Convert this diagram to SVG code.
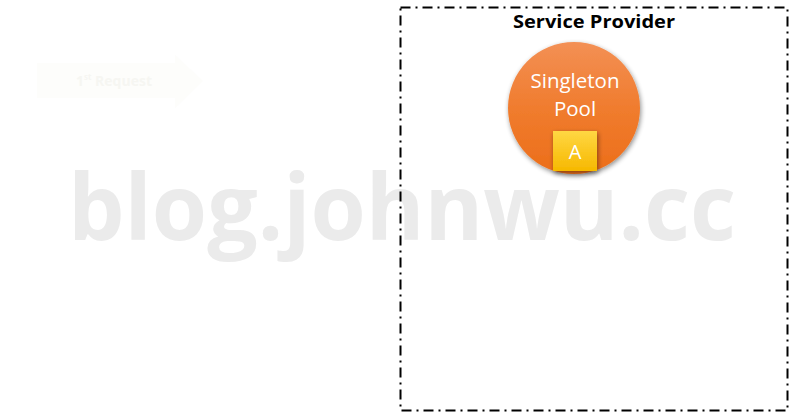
<svg xmlns="http://www.w3.org/2000/svg" width="800" height="420" viewBox="0 0 800 420">
<defs>
<linearGradient id="orange" x1="0" y1="0" x2="0" y2="1">
<stop offset="0" stop-color="#F39055"/>
<stop offset="0.5" stop-color="#F07C2E"/>
<stop offset="1" stop-color="#EC6E1A"/>
</linearGradient>
<linearGradient id="gold" x1="0" y1="0" x2="0" y2="1">
<stop offset="0" stop-color="#FFD743"/>
<stop offset="1" stop-color="#F6B800"/>
</linearGradient>
<filter id="shadow" x="-20%" y="-20%" width="140%" height="140%">
<feGaussianBlur in="SourceAlpha" stdDeviation="2.5"/>
<feOffset dx="1" dy="2" result="b"/>
<feComponentTransfer><feFuncA type="linear" slope="0.45"/></feComponentTransfer>
<feMerge><feMergeNode/><feMergeNode in="SourceGraphic"/></feMerge>
</filter>
<filter id="blur1"><feGaussianBlur stdDeviation="0.6"/></filter>
</defs>
<style>
text{font-family:"Open Sans","Liberation Sans",sans-serif}
.title{font-weight:bold;font-size:18px;fill:#000}
.white{fill:#fff;font-size:20.5px}
</style>
<rect width="800" height="420" fill="#fff"/>
<text x="402" y="240" text-anchor="middle" font-family="'Open Sans','Liberation Sans',sans-serif" font-weight="bold" font-size="92" fill="#EBEBEB" textLength="668" lengthAdjust="spacingAndGlyphs">blog.johnwu.cc</text>
<g id="request-arrow">
<path d="M37,63 H175 V55 L203,81 L175,108 V98 H37 Z" fill="#FDFDFB"/>
<text x="114" y="86" text-anchor="middle" font-size="14" font-weight="bold" fill="#F6F6F2">1<tspan font-size="8" dy="-6">st</tspan><tspan dy="6"> Request</tspan></text>
</g>
<g id="service-provider">
<rect x="400.5" y="7.5" width="387" height="403" fill="none" stroke="#000" stroke-width="2" stroke-dasharray="10 5 2 5" filter="url(#blur1)"/>
<text class="title" x="594" y="28" text-anchor="middle" font-family="'Open Sans','Liberation Sans',sans-serif" textLength="162" lengthAdjust="spacingAndGlyphs">Service Provider</text>
</g>
<g id="singleton-pool">
<circle cx="574" cy="108" r="66" fill="url(#orange)" filter="url(#shadow)"/>
<text class="white" x="575" y="88" text-anchor="middle">Singleton</text>
<text class="white" x="575" y="116" text-anchor="middle">Pool</text>
</g>
<g id="instance-a">
<rect x="553" y="131" width="44" height="40" fill="url(#gold)" filter="url(#shadow)"/>
<text x="575" y="159" text-anchor="middle" font-size="20" fill="#fff">A</text>
</g>
</svg>
